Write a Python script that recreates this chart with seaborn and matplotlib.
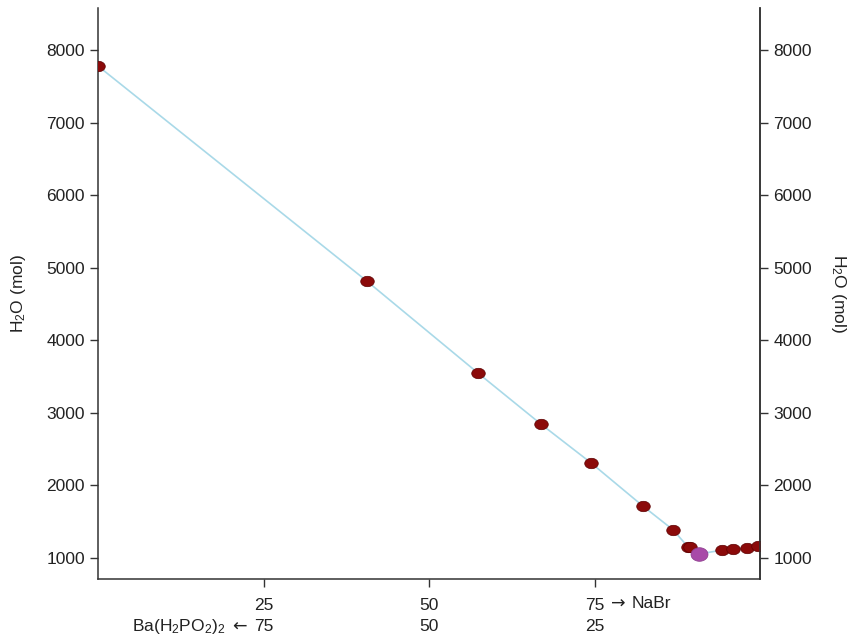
import matplotlib
matplotlib.use("Agg")
import matplotlib.pyplot as plt
import numpy as np
import pandas as pd
import seaborn as sns
from matplotlib.path import Path

# solubility isotherm points (NaBr %, H2O mol)
nabr_pct = [0, 40.6, 57.4, 66.9, 74.5, 82.3, 86.9, 89.1, 89.4, 90.8, 94.3, 95.9, 98.0, 99.7]
water_mol = [7780, 4817, 3549, 2846, 2309, 1717, 1386, 1155, 1148, 1055, 1110, 1124, 1138, 1165]
phase = ["sat"] * 9 + ["eutonic"] + ["sat"] * 4

x_ticks = [25, 50, 75]
x_labels = ["25", "50", "75"]
ba_labels = ["75", "50", "25"]
y_ticks = [1000, 2000, 3000, 4000, 5000, 6000, 7000, 8000]

df = pd.DataFrame({"nabr": nabr_pct, "water": water_mol, "phase": phase})

sns.set_style("ticks")
plt.rcParams["font.family"] = ["Liberation Sans", "DejaVu Sans"]
plt.rcParams["mathtext.fontset"] = "custom"
plt.rcParams["mathtext.rm"] = "Liberation Sans"
plt.rcParams["mathtext.it"] = "Liberation Sans:italic"
plt.rcParams["mathtext.default"] = "regular"

# ellipse-shaped marker like the original
t = np.linspace(0, 2 * np.pi, 60)
ellipse = Path(np.column_stack([1.3 * np.cos(t), np.sin(t)]), closed=True)
ellipse_p = Path(np.column_stack([1.25 * np.cos(t), np.sin(t)]), closed=True)

fig = plt.figure(figsize=(8.5, 6.41), dpi=100)
ax = fig.add_axes([98 / 850, 1 - 579 / 641, (760 - 98) / 850, (579 - 8) / 641])

sns.lineplot(data=df, x="nabr", y="water", sort=False, color="#a9d9e8",
             linewidth=1.2, ax=ax, zorder=1)
sat = df[df["phase"] == "sat"]
eut = df[df["phase"] == "eutonic"]
sns.scatterplot(data=sat, x="nabr", y="water", marker=ellipse, s=95,
                color="#8b0a0a", edgecolor="#5c0000", linewidth=0.5, ax=ax, zorder=3)
sns.scatterplot(data=eut, x="nabr", y="water", marker=ellipse_p, s=150,
                color="#a84aa8", edgecolor="#8a3a8a", linewidth=0.5, ax=ax, zorder=4)

ax.set_xlim(0, 100)
ax.set_ylim(711, 8579)
ax.set_xticks(x_ticks)
ax.set_xticklabels(x_labels)
ax.set_yticks(y_ticks)
ax.tick_params(axis="both", labelsize=12.5, length=6, width=1, color="#333333",
               labelcolor="#222222", direction="out")
ax.tick_params(axis="x", pad=8)
ax.set_xlabel("")
ax.set_ylabel("H$_2$O (mol)", fontsize=12.5, color="#222222", labelpad=13)
for s in ["left", "bottom", "right"]:
    ax.spines[s].set_color("#333333")
    ax.spines[s].set_linewidth(1.1)
ax.spines["top"].set_visible(False)

ax2 = ax.twinx()
ax2.set_ylim(ax.get_ylim())
ax2.set_yticks(y_ticks)
ax2.tick_params(axis="y", labelsize=12.5, length=6, width=1, color="#333333",
                labelcolor="#222222", direction="out")
ax2.set_ylabel("H$_2$O (mol)", fontsize=12.5, color="#222222", rotation=270, labelpad=26)
for s in ["top", "left", "bottom"]:
    ax2.spines[s].set_visible(False)
ax2.spines["right"].set_color("#333333")
ax2.spines["right"].set_linewidth(1.1)

# second row of composition labels (Ba(H2PO2)2 %)
row2 = -34.5
for xv, lab in zip(x_ticks, ba_labels):
    ax.annotate(lab, xy=(xv, 0), xycoords=("data", "axes fraction"),
                xytext=(0, row2), textcoords="offset points", ha="center", va="center",
                fontsize=12.5, color="#222222")
ax.annotate("\u2190", xy=(25, 0), xycoords=("data", "axes fraction"),
            xytext=(-12, row2), textcoords="offset points", ha="right", va="center",
            fontsize=12.5, color="#222222", family="DejaVu Sans")
ax.annotate("Ba(H$_2$PO$_2$)$_2$", xy=(25, 0), xycoords=("data", "axes fraction"),
            xytext=(-27, row2), textcoords="offset points", ha="right", va="center",
            fontsize=12.5, color="#222222")
ax.annotate("\u2192", xy=(75, 0), xycoords=("data", "axes fraction"),
            xytext=(12, -18), textcoords="offset points", ha="left", va="center",
            fontsize=12.5, color="#222222", family="DejaVu Sans")
ax.annotate("NaBr", xy=(75, 0), xycoords=("data", "axes fraction"),
            xytext=(27, -18), textcoords="offset points", ha="left", va="center",
            fontsize=12.5, color="#222222")

fig.savefig("out.png", dpi=100)
